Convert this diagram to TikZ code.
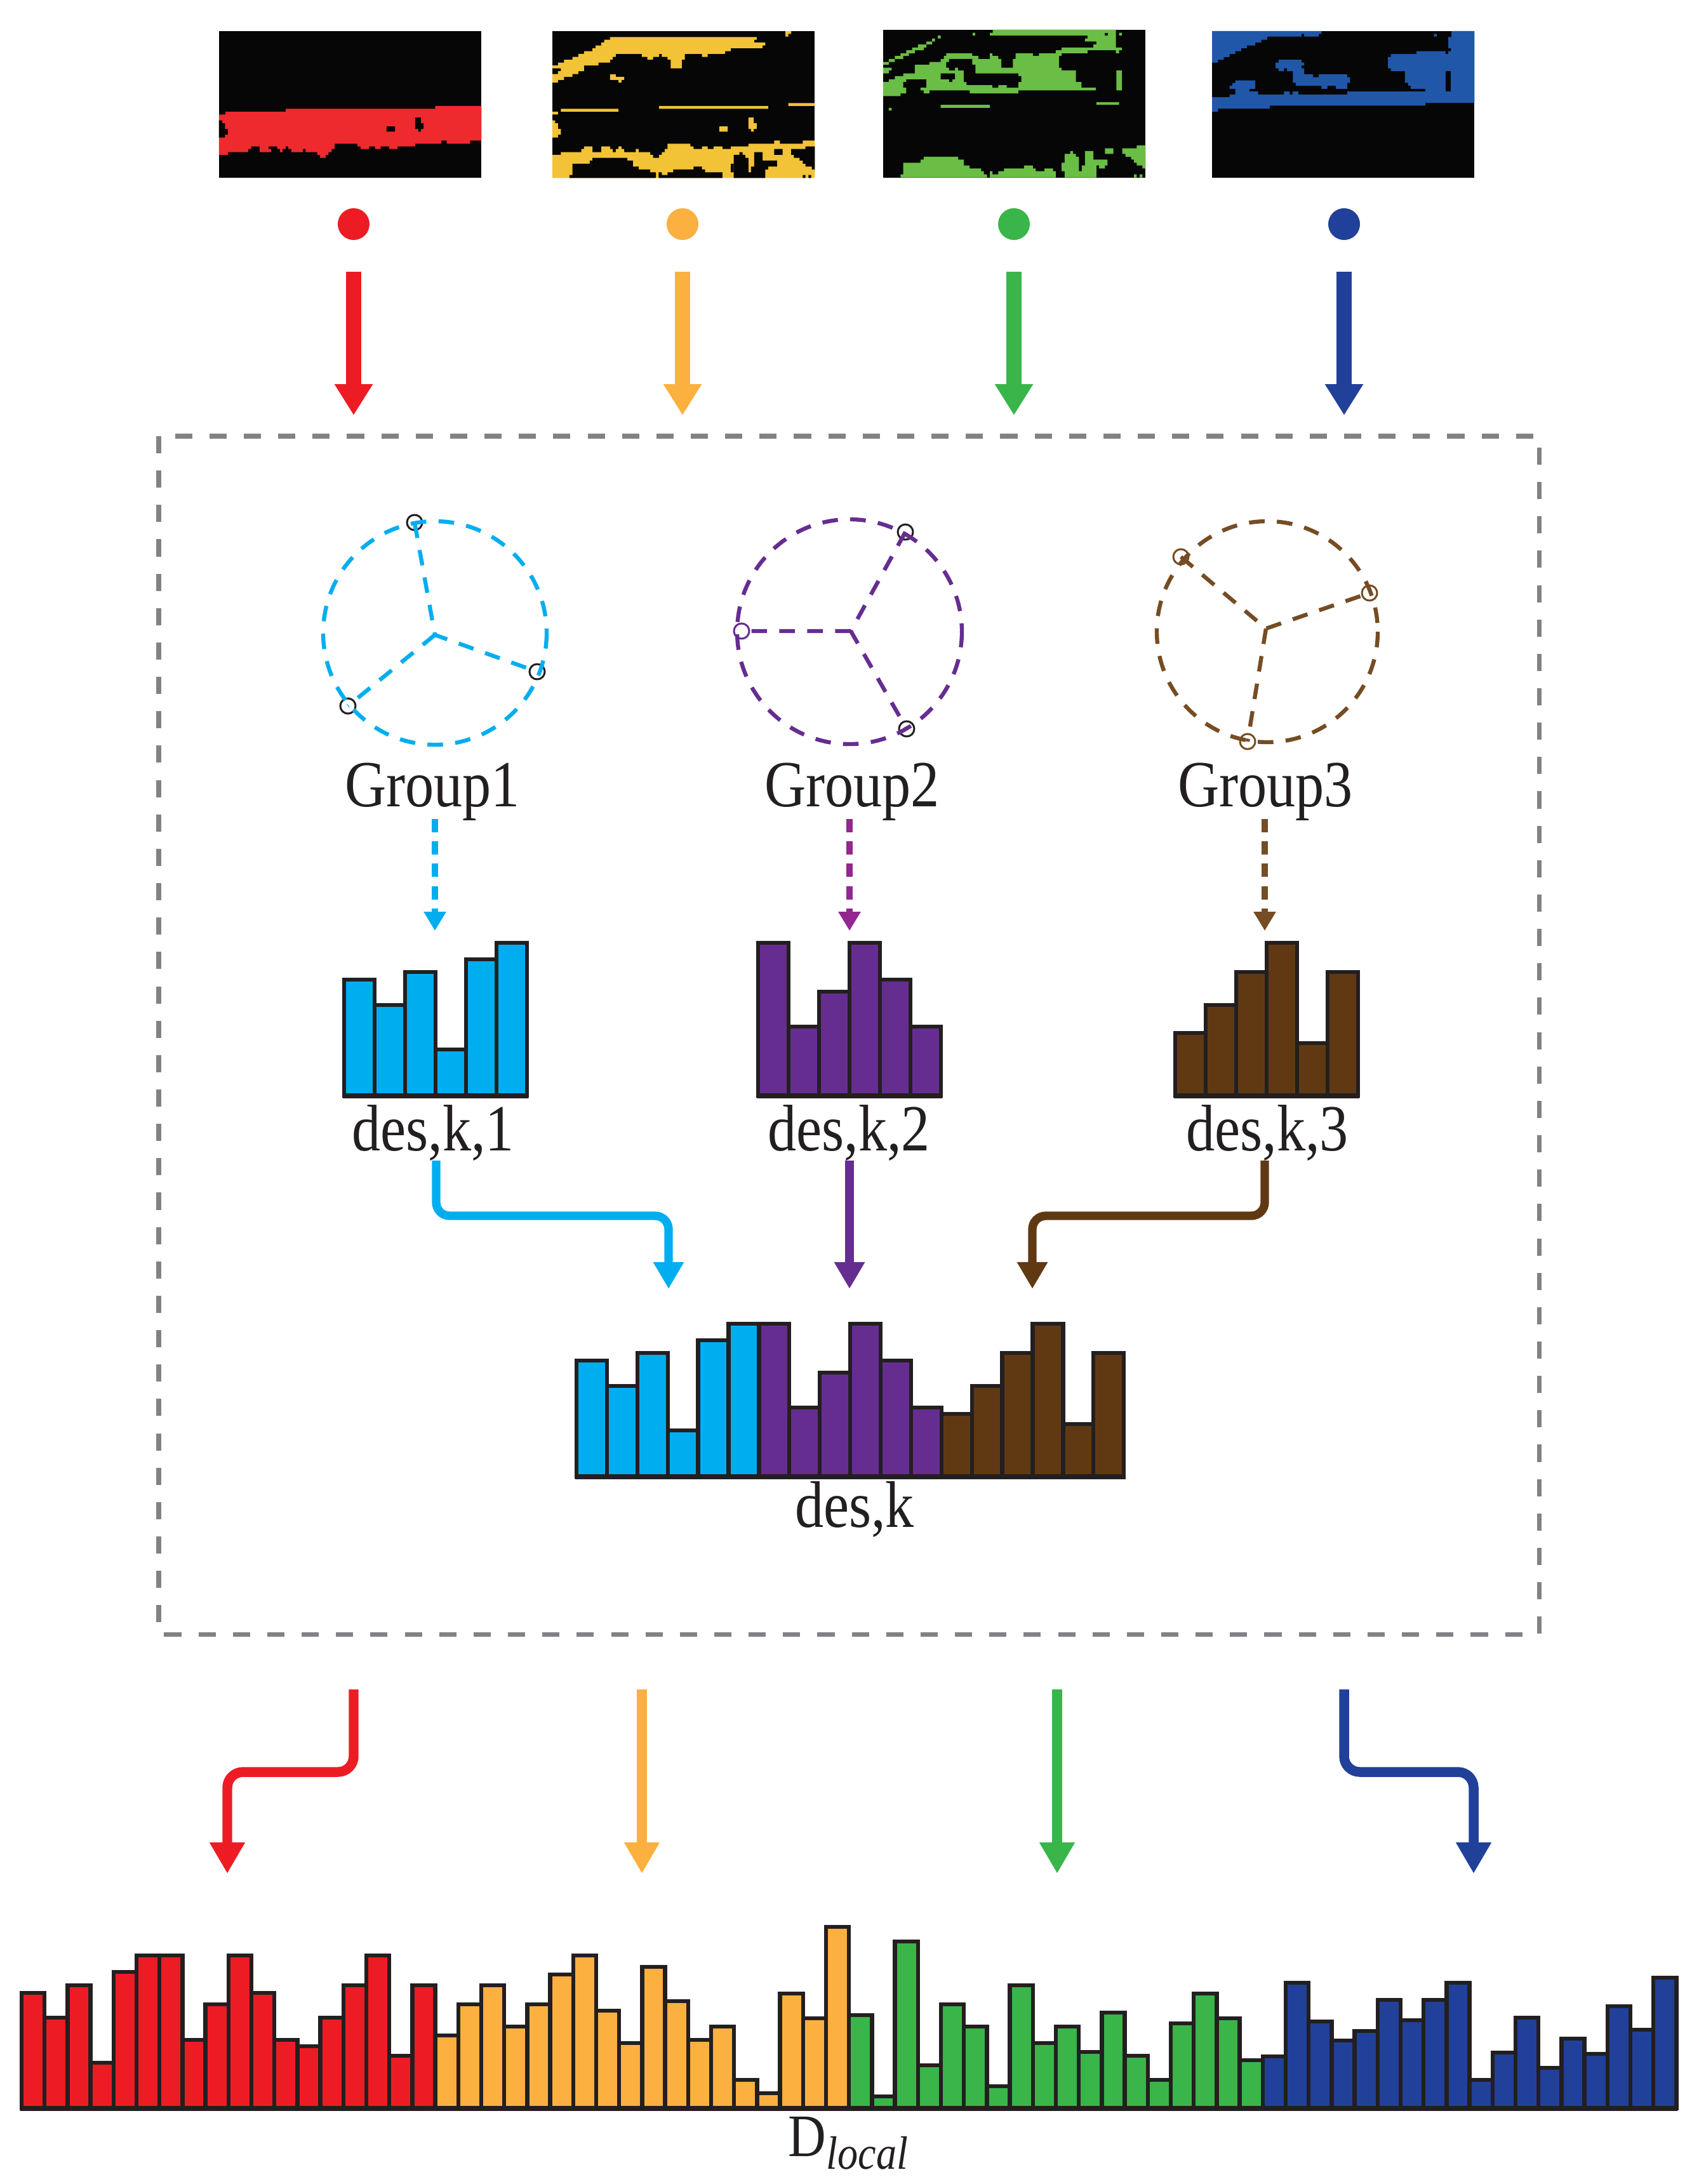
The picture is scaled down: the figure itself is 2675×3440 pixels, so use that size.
\documentclass[tikz,border=0pt]{standalone}
\usepackage{fontspec}
\setmainfont{Liberation Serif}[FakeStretch=0.87]
\usepackage{tikz}
\usetikzlibrary{arrows.meta}

\definecolor{maskred}{HTML}{EE2A2E}
\definecolor{maskyellow}{HTML}{F2C337}
\definecolor{maskgreen}{HTML}{6ABD45}
\definecolor{maskblue}{HTML}{2157A8}
\definecolor{maskblack}{HTML}{060606}
\definecolor{cRed}{HTML}{ED1C24}
\definecolor{cOrange}{HTML}{FBB040}
\definecolor{cGreen}{HTML}{39B54A}
\definecolor{cBlue}{HTML}{21409A}
\definecolor{cCyan}{HTML}{00AEEF}
\definecolor{cPurple}{HTML}{662D91}
\definecolor{cMagenta}{HTML}{92278F}
\definecolor{cBrown}{HTML}{603913}
\definecolor{cBrownL}{HTML}{754C24}
\definecolor{cLine}{HTML}{231F20}
\definecolor{cGray}{HTML}{808285}

\begin{document}
\begin{tikzpicture}[x=0.01cm, y=-0.01cm,
    histbar/.style={draw=cLine, line width=1.8pt},
    histbase/.style={draw=cLine, line width=2.4pt},
    txt/.style={font=\fontsize{29.5}{34}\selectfont, text=cLine, inner sep=0pt, anchor=base},
    dot/.style={circle, inner sep=0pt, minimum size=0.5cm},
    toparrow/.style={line width=6.8pt, -{Triangle[width=16.2pt,length=13.9pt]}},
    joinarrow/.style={line width=3.8pt, rounded corners=6pt, -{Triangle[width=13pt,length=12pt]}},
    outarrow/.style={line width=4.4pt, rounded corners=7pt, -{Triangle[width=15pt,length=14pt]}},
    grparrow/.style={line width=2.6pt, dash pattern=on 6pt off 4pt, -{Triangle[width=9.5pt,length=8.5pt]}},
    ring/.style={line width=1.8pt, dash pattern=on 7pt off 5.5pt},
    pin/.style={draw=cLine, line width=0.85pt},
    box/.style={draw=cGray, line width=2pt, dash pattern=on 7.7pt off 7.7pt}]
  \useasboundingbox (0,0) rectangle (2675,3440);

  % segmentation masks
  \begin{scope}[shift={(330,30)}, x=0.003333cm, y=-0.003333cm]
    \fill[maskblack] (45,57) rectangle (1287,752);
    \fill[maskred] (45,452) -- (75,452) -- (75,438) -- (360,438) -- (360,425) -- (1068,425) -- (1068,411) -- (1287,411) -- (1287,575) -- (1233,575) -- (1233,590) -- (1123,590) -- (1123,575) -- (1097,575) -- (1097,590) -- (973,590) -- (973,603) -- (890,603) -- (890,615) -- (850,615) -- (850,603) -- (810,603) -- (810,615) -- (783,615) -- (783,603) -- (755,603) -- (755,615) -- (715,615) -- (715,603) -- (700,603) -- (700,590) -- (592,590) -- (592,615) -- (578,615) -- (578,630) -- (563,630) -- (563,643) -- (550,643) -- (550,657) -- (523,657) -- (523,643) -- (510,643) -- (510,630) -- (455,630) -- (455,615) -- (441,615) -- (441,630) -- (387,630) -- (387,615) -- (373,615) -- (373,603) -- (360,603) -- (360,615) -- (346,615) -- (346,630) -- (333,630) -- (333,615) -- (320,615) -- (320,603) -- (280,603) -- (280,615) -- (292,615) -- (292,630) -- (237,630) -- (237,603) -- (197,603) -- (197,615) -- (183,615) -- (183,630) -- (87,630) -- (87,643) -- (45,643) -- cycle;
    \fill[maskblack] (838,508) rectangle (878,533) (973,466) rectangle (1000,520) (1000,493) rectangle (1013,520) (988,520) rectangle (1000,533)
      (45,480) rectangle (60,493) (45,493) rectangle (73,520) (45,520) rectangle (87,547) (45,547) rectangle (73,561);
  \end{scope}
  \begin{scope}[shift={(850,30)}, x=0.003333cm, y=-0.003333cm]
    \fill[maskblack] (60,57) rectangle (1302,752);
    \fill[maskyellow] (333,85) -- (1027,85) -- (1027,98) -- (1015,98) -- (1015,111) -- (1068,111) -- (1068,125) -- (1055,125) -- (1055,138) -- (905,138) -- (905,152) -- (878,152) -- (878,165) -- (795,165) -- (795,179) -- (768,179) -- (768,165) -- (687,165) -- (687,192) -- (673,192) -- (673,233) -- (620,233) -- (620,192) -- (605,192) -- (605,179) -- (578,179) -- (578,165) -- (565,165) -- (565,179) -- (537,179) -- (537,192) -- (510,192) -- (510,179) -- (483,179) -- (483,165) -- (360,165) -- (360,179) -- (346,179) -- (346,192) -- (333,192) -- (333,206) -- (278,206) -- (278,220) -- (210,220) -- (210,247) -- (183,247) -- (183,260) -- (155,260) -- (155,274) -- (115,274) -- (115,288) -- (87,288) -- (87,301) -- (60,301) -- (60,260) -- (87,260) -- (87,247) -- (100,247) -- (100,233) -- (60,233) -- (60,220) -- (87,220) -- (87,206) -- (115,206) -- (115,193) -- (155,193) -- (155,179) -- (183,179) -- (183,165) -- (210,165) -- (210,152) -- (250,152) -- (250,138) -- (265,138) -- (265,125) -- (292,125) -- (292,111) -- (305,111) -- (305,98) -- (333,98) -- cycle;
    \fill[maskyellow] (60,752) -- (60,643) -- (100,643) -- (100,630) -- (197,630) -- (197,615) -- (210,615) -- (210,603) -- (250,603) -- (250,630) -- (292,630) -- (292,603) -- (333,603) -- (333,615) -- (346,615) -- (346,630) -- (360,630) -- (360,615) -- (373,615) -- (373,603) -- (387,603) -- (387,615) -- (400,615) -- (400,630) -- (455,630) -- (455,615) -- (468,615) -- (468,630) -- (523,630) -- (523,643) -- (537,643) -- (537,657) -- (565,657) -- (565,643) -- (578,643) -- (578,630) -- (592,630) -- (592,615) -- (605,615) -- (605,590) -- (713,590) -- (713,603) -- (728,603) -- (728,615) -- (768,615) -- (768,603) -- (795,603) -- (795,615) -- (823,615) -- (823,603) -- (865,603) -- (865,615) -- (905,615) -- (905,603) -- (988,603) -- (988,590) -- (1110,590) -- (1110,575) -- (1137,575) -- (1137,590) -- (1245,590) -- (1245,575) -- (1302,575) -- (1302,752) -- cycle;
    \fill[maskblack] (141,752) -- (141,738) -- (155,738) -- (155,685) -- (237,685) -- (237,670) -- (250,670) -- (250,657) -- (415,657) -- (415,670) -- (441,670) -- (441,698) -- (468,698) -- (468,712) -- (523,712) -- (523,725) -- (550,725) -- (550,752) -- cycle;
    \fill[maskblack] (563,752) -- (563,725) -- (578,725) -- (578,738) -- (605,738) -- (605,725) -- (632,725) -- (632,712) -- (728,712) -- (728,698) -- (768,698) -- (768,712) -- (783,712) -- (783,725) -- (865,725) -- (865,752) -- cycle;
    \fill[maskblack] (918,752) -- (918,643) -- (945,643) -- (945,630) -- (960,630) -- (960,643) -- (973,643) -- (973,657) -- (988,657) -- (988,725) -- (1000,725) -- (1000,698) -- (1015,698) -- (1015,630) -- (1055,630) -- (1055,670) -- (1123,670) -- (1123,698) -- (1081,698) -- (1081,712) -- (1068,712) -- (1068,752) -- cycle;
    \fill[maskblack] (1190,615) -- (1258,615) -- (1258,603) -- (1302,603) -- (1302,712) -- (1288,712) -- (1288,698) -- (1258,698) -- (1258,685) -- (1245,685) -- (1245,670) -- (1230,670) -- (1230,657) -- (1203,657) -- (1203,643) -- (1190,643) -- cycle;
    \fill[maskblack] (905,685) rectangle (918,725) (1110,615) rectangle (1150,643) (1245,738) rectangle (1258,752) (1272,738) rectangle (1285,752);
    \fill[maskyellow] (333,262) rectangle (360,288) (360,274) rectangle (400,288) (373,288) rectangle (387,301)
      (1163,57) rectangle (1190,70) (1163,70) rectangle (1177,83)
      (100,425) rectangle (373,438) (565,411) rectangle (1081,425) (1177,398) rectangle (1302,411) (60,438) rectangle (87,452)
      (60,480) rectangle (73,493) (60,493) rectangle (87,520) (60,520) rectangle (100,547) (60,547) rectangle (87,561)
      (850,508) rectangle (890,533) (988,466) rectangle (1013,520) (1013,493) rectangle (1027,520) (1000,520) rectangle (1013,533);
  \end{scope}
  \begin{scope}[shift={(1370,30)}, x=0.003333cm, y=-0.003333cm]
    \fill[maskblack] (63,50) rectangle (1305,750);
    \fill[maskgreen] (568,65) -- (582,65) -- (582,50) -- (1165,50) -- (1165,135) -- (1193,135) -- (1193,148) -- (1180,148) -- (1180,162) -- (1165,162) -- (1165,148) -- (1030,148) -- (1030,162) -- (908,162) -- (908,135) -- (1058,135) -- (1058,120) -- (1072,120) -- (1072,106) -- (1018,106) -- (1018,92) -- (1030,92) -- (1030,78) -- (568,78) -- cycle;
    \fill[maskblack] (1113,65) rectangle (1127,78);
    \fill[maskgreen] (1180,65) rectangle (1193,78) (1167,243) rectangle (1193,338) (486,65) rectangle (498,78);
    \fill[maskgreen] (63,298) -- (90,298) -- (90,285) -- (118,285) -- (118,270) -- (158,270) -- (158,257) -- (213,257) -- (213,216) -- (282,216) -- (282,203) -- (335,203) -- (335,189) -- (350,189) -- (350,175) -- (362,175) -- (362,162) -- (485,162) -- (485,175) -- (513,175) -- (513,189) -- (568,189) -- (568,162) -- (580,162) -- (580,175) -- (608,175) -- (608,189) -- (622,189) -- (622,230) -- (677,230) -- (677,189) -- (690,189) -- (690,162) -- (772,162) -- (772,175) -- (800,175) -- (800,162) -- (880,162) -- (880,148) -- (908,148) -- (908,175) -- (895,175) -- (895,230) -- (908,230) -- (908,243) -- (975,243) -- (975,298) -- (1002,298) -- (1002,325) -- (1070,325) -- (1070,338) -- (703,338) -- (703,352) -- (473,352) -- (473,338) -- (282,338) -- (282,352) -- (255,352) -- (255,338) -- (240,338) -- (240,325) -- (268,325) -- (268,285) -- (172,285) -- (172,298) -- (158,298) -- (158,325) -- (172,325) -- (172,352) -- (145,352) -- (145,365) -- (63,365) -- cycle;
    \fill[maskblack] (375,189) -- (485,189) -- (485,216) -- (500,216) -- (500,257) -- (703,257) -- (703,270) -- (717,270) -- (717,298) -- (703,298) -- (703,325) -- (648,325) -- (648,312) -- (608,312) -- (608,325) -- (580,325) -- (580,312) -- (458,312) -- (458,298) -- (445,298) -- (445,243) -- (418,243) -- (418,230) -- (403,230) -- (403,243) -- (375,243) -- (375,230) -- (362,230) -- (362,203) -- (375,203) -- cycle;
    \fill[maskblack] (335,257) -- (403,257) -- (403,285) -- (390,285) -- (390,298) -- (375,298) -- (375,285) -- (335,285) -- cycle;
    \fill[maskgreen] (63,203) rectangle (90,216) (90,189) rectangle (118,203) (118,175) rectangle (158,189) (145,162) rectangle (185,175)
      (172,148) rectangle (213,162) (200,135) rectangle (255,148) (228,120) rectangle (268,135) (268,106) rectangle (295,120)
      (295,92) rectangle (308,106) (322,78) rectangle (335,92) (63,230) rectangle (103,243) (63,243) rectangle (90,257)
      (335,406) rectangle (568,420) (1072,393) rectangle (1180,406) (90,420) rectangle (103,433)
      (1113,612) rectangle (1153,638) (1250,735) rectangle (1263,750) (1277,735) rectangle (1290,750);
    \fill[maskgreen] (145,750) -- (145,735) -- (158,735) -- (158,680) -- (240,680) -- (240,665) -- (255,665) -- (255,652) -- (418,652) -- (418,665) -- (445,665) -- (445,693) -- (472,693) -- (472,707) -- (527,707) -- (527,720) -- (540,720) -- (540,735) -- (555,735) -- (555,750) -- cycle;
    \fill[maskgreen] (568,750) -- (568,720) -- (580,720) -- (580,735) -- (608,735) -- (608,720) -- (635,720) -- (635,707) -- (730,707) -- (730,693) -- (772,693) -- (772,707) -- (785,707) -- (785,720) -- (827,720) -- (827,707) -- (867,707) -- (867,720) -- (880,720) -- (880,750) -- cycle;
    \fill[maskgreen] (922,750) -- (922,720) -- (908,720) -- (908,680) -- (922,680) -- (922,638) -- (948,638) -- (948,625) -- (962,625) -- (962,638) -- (975,638) -- (975,652) -- (990,652) -- (990,720) -- (1003,720) -- (1003,693) -- (1018,693) -- (1018,625) -- (1058,625) -- (1058,665) -- (1125,665) -- (1125,693) -- (1113,693) -- (1113,707) -- (1085,707) -- (1085,693) -- (1072,693) -- (1072,750) -- cycle;
    \fill[maskgreen] (1195,612) -- (1263,612) -- (1263,598) -- (1305,598) -- (1305,707) -- (1290,707) -- (1290,693) -- (1263,693) -- (1263,680) -- (1250,680) -- (1250,665) -- (1237,665) -- (1237,652) -- (1210,652) -- (1210,638) -- (1195,638) -- cycle;
  \end{scope}
  \begin{scope}[shift={(1890,30)}, x=0.003333cm, y=-0.003333cm]
    \fill[maskblack] (57,57) rectangle (1299,752);
    \fill[maskblue] (57,57) -- (575,57) -- (575,70) -- (562,70) -- (562,83) -- (493,83) -- (493,70) -- (480,70) -- (480,83) -- (318,83) -- (318,98) -- (290,98) -- (290,111) -- (262,111) -- (262,125) -- (222,125) -- (222,138) -- (195,138) -- (195,152) -- (167,152) -- (167,165) -- (140,165) -- (140,180) -- (112,180) -- (112,193) -- (85,193) -- (85,206) -- (57,206) -- cycle;
    \fill[maskblue] (1190,57) -- (1299,57) -- (1299,397) -- (1067,397) -- (1067,410) -- (330,410) -- (330,424) -- (85,424) -- (85,438) -- (57,438) -- (57,370) -- (140,370) -- (140,357) -- (222,357) -- (222,343) -- (262,343) -- (262,357) -- (398,357) -- (398,343) -- (425,343) -- (425,357) -- (438,357) -- (438,343) -- (465,343) -- (465,357) -- (697,357) -- (697,343) -- (1067,343) -- (1067,330) -- (998,330) -- (998,316) -- (985,316) -- (985,302) -- (970,302) -- (970,247) -- (903,247) -- (903,233) -- (890,233) -- (890,180) -- (903,180) -- (903,166) -- (1025,166) -- (1025,152) -- (1162,152) -- (1162,166) -- (1175,166) -- (1175,152) -- (1188,152) -- (1188,138) -- (1175,138) -- (1175,85) -- (1190,85) -- cycle;
    \fill[maskblack] (1162,247) rectangle (1188,343);
    \fill[maskblue] (1107,70) rectangle (1120,83) (248,343) rectangle (275,357);
    \fill[maskblue] (167,290) -- (262,290) -- (262,330) -- (235,330) -- (235,343) -- (222,343) -- (222,357) -- (167,357) -- (167,330) -- (140,330) -- (140,316) -- (153,316) -- (153,303) -- (167,303) -- cycle;
    \fill[maskblue] (372,193) -- (480,193) -- (480,206) -- (493,206) -- (493,220) -- (480,220) -- (480,233) -- (493,233) -- (493,262) -- (535,262) -- (535,275) -- (562,275) -- (562,262) -- (697,262) -- (697,275) -- (710,275) -- (710,302) -- (697,302) -- (697,330) -- (643,330) -- (643,316) -- (603,316) -- (603,330) -- (575,330) -- (575,316) -- (453,316) -- (453,302) -- (440,302) -- (440,247) -- (412,247) -- (412,233) -- (398,233) -- (398,247) -- (372,247) -- (372,233) -- (358,233) -- (358,206) -- (372,206) -- cycle;
  \end{scope}

  % class dots and arrows into the box
  \node[dot, fill=cRed] (d1) at (557,353) {};
  \node[dot, fill=cOrange] (d2) at (1075,353) {};
  \node[dot, fill=cGreen] (d3) at (1597,353) {};
  \node[dot, fill=cBlue] (d4) at (2117,353) {};
  \foreach \n/\x in {1/557,2/1075,3/1597,4/2117} {
    \coordinate (in\n) at (\x,428);
    \coordinate (bx\n) at (\x,654);
  }
  \draw[toparrow, cRed] (in1) -- (bx1);
  \draw[toparrow, cOrange] (in2) -- (bx2);
  \draw[toparrow, cGreen] (in3) -- (bx3);
  \draw[toparrow, cBlue] (in4) -- (bx4);

  \draw[box] (250,687) rectangle (2424,2574);

  % groups
  \draw[pin] (653,823) circle (12) (846,1058) circle (12) (548,1112) circle (12);
  \draw[ring, cCyan] (685,997) circle (176);
  \draw[ring, cCyan] (653,823) -- (685,1000) -- (846,1058) (685,1000) -- (548,1112);

  \draw[pin] (1426,838) circle (12) (1428,1148) circle (12);
  \draw[pin, cPurple] (1168,994) circle (12);
  \draw[ring, cPurple] (1338,995) circle (177);
  \draw[ring, cPurple] (1426,838) -- (1340,994) -- (1428,1148) (1340,994) -- (1168,994);

  \draw[pin, cBrownL] (1860,877) circle (12) (2157,934) circle (12) (1965,1168) circle (12);
  \draw[ring, cBrownL] (1996,995) circle (174);
  \draw[ring, cBrownL] (1860,877) -- (1994,990) -- (2157,934) (1994,990) -- (1965,1168);

  \node[txt] (grp1) at (681,1270) {Group1};
  \node[txt] (grp2) at (1342,1270) {Group2};
  \node[txt] (grp3) at (1993,1270) {Group3};

  \foreach \n/\x in {1/685,2/1338,3/1992} {
    \coordinate (gs\n) at (\x,1290);
    \coordinate (gh\n) at (\x,1466);
  }
  \draw[grparrow, cCyan] (gs1) -- (gh1);
  \draw[grparrow, cMagenta] (gs2) -- (gh2);
  \draw[grparrow, cBrownL] (gs3) -- (gh3);

  % group histograms
  \foreach \h [count=\i from 0] in {183,143,195,73,215,241}
    \draw[histbar, fill=cCyan] (542+48*\i,1726) rectangle ++(48,-\h);
  \foreach \h [count=\i from 0] in {241,109,164,241,183,109}
    \draw[histbar, fill=cPurple] (1194+48*\i,1726) rectangle ++(48,-\h);
  \foreach \h [count=\i from 0] in {99,143,195,241,83,195}
    \draw[histbar, fill=cBrown] (1851+48*\i,1726) rectangle ++(48,-\h);
  \draw[histbase] (540,1726) -- (832,1726) (1192,1726) -- (1484,1726) (1849,1726) -- (2141,1726);

  \node[txt] (dk1) at (682,1812) {des,k,1};
  \node[txt] (dk2) at (1337,1812) {des,k,2};
  \node[txt] (dk3) at (1996,1812) {des,k,3};

  % concatenation
  \coordinate (j1) at (687,1828);
  \coordinate (j2) at (1338,1828);
  \coordinate (j3) at (1992,1828);
  \coordinate (k1) at (1053,2030);
  \coordinate (k2) at (1338,2030);
  \coordinate (k3) at (1626,2030);
  \draw[joinarrow, cCyan] (j1) |- (870,1915) -| (k1);
  \draw[joinarrow, cPurple] (j2) -- (k2);
  \draw[joinarrow, cBrown] (j3) |- (1800,1915) -| (k3);

  \foreach \h [count=\i from 0] in {183,143,195,73,215,241}
    \draw[histbar, fill=cCyan] (908+47.9*\i,2326) rectangle ++(47.9,-\h);
  \foreach \h [count=\i from 0] in {241,109,164,241,183,109}
    \draw[histbar, fill=cPurple] (1195.4+47.9*\i,2326) rectangle ++(47.9,-\h);
  \foreach \h [count=\i from 0] in {99,143,195,241,83,195}
    \draw[histbar, fill=cBrown] (1482.8+47.9*\i,2326) rectangle ++(47.9,-\h);
  \draw[histbase] (906,2326) -- (1773,2326);
  \node[txt] (dk) at (1346,2405) {des,k};

  % out of the box
  \foreach \n/\x in {1/557,2/1011,3/1665,4/2117}
    \coordinate (ob\n) at (\x,2661);
  \coordinate (dl1) at (358,2951);
  \coordinate (dl2) at (1011,2951);
  \coordinate (dl3) at (1665,2951);
  \coordinate (dl4) at (2321,2951);
  \draw[outarrow, cRed] (ob1) |- (450,2791) -| (dl1);
  \draw[outarrow, cOrange] (ob2) -- (dl2);
  \draw[outarrow, cGreen] (ob3) -- (dl3);
  \draw[outarrow, cBlue] (ob4) |- (2200,2791) -| (dl4);

  % local descriptor
  \foreach \h [count=\i from 0] in {182,143,194,72,215,241,241,108,164,241,182,108,98,143,194,241,83,194}
    \draw[histbar, fill=cRed] (34+36.2*\i,3321) rectangle ++(36.2,-\h);
  \foreach \h [count=\i from 0] in {115,164,194,129,164,211,241,154,103,223,169,108,129,45,24,181,142,286}
    \draw[histbar, fill=cOrange] (685.6+36.2*\i,3321) rectangle ++(36.2,-\h);
  \foreach \h [count=\i from 0] in {147,19,263,68,164,129,35,194,103,129,89,151,83,45,134,181,142,76}
    \draw[histbar, fill=cGreen] (1337.2+36.2*\i,3321) rectangle ++(36.2,-\h);
  \foreach \h [count=\i from 0] in {82,198,137,107,122,171,139,171,198,45,88,143,64,110,86,161,124,206}
    \draw[histbar, fill=cBlue] (1988.8+36.2*\i,3321) rectangle ++(36.2,-\h);
  \draw[histbase] (32,3321) -- (2642,3321);
  \node[txt] (dloc) at (1336,3396) {\fontsize{27}{32}\selectfont D\raisebox{-0.22em}{\fontsize{21}{24}\selectfont\itshape local}};
\end{tikzpicture}
\end{document}
